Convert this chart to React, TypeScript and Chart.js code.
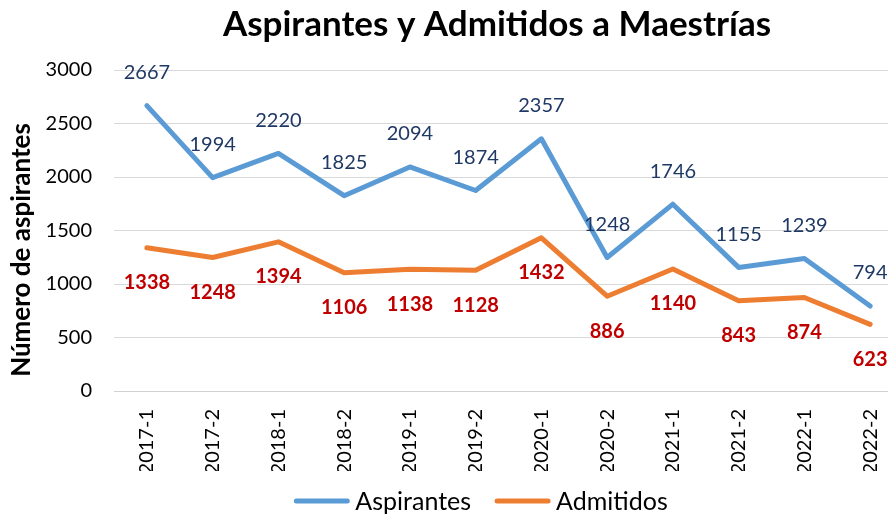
import React, { useEffect, useRef } from "react";
import { Chart, registerables } from "chart.js";

Chart.register(...registerables);

const categories = ["2017-1", "2017-2", "2018-1", "2018-2", "2019-1", "2019-2", "2020-1", "2020-2", "2021-1", "2021-2", "2022-1", "2022-2"];
const aspirantes = [2667, 1994, 2220, 1825, 2094, 1874, 2357, 1248, 1746, 1155, 1239, 794];
const admitidos = [1338, 1248, 1394, 1106, 1138, 1128, 1432, 886, 1140, 843, 874, 623];
const yTicks = [0, 500, 1000, 1500, 2000, 2500, 3000];
const titleText = "Aspirantes y Admitidos a Maestrías";
const yTitleText = "Número de aspirantes";
const seriesNames = ["Aspirantes", "Admitidos"];
const seriesColors = ["#5B9BD5", "#ED7D31"];

const FONT = "Lato, 'Noto Sans', sans-serif";
const W = 920;
const H = 516;

const overlay = {
  id: "overlay",
  afterDatasetsDraw(chart: any) {
    const ctx = chart.ctx as CanvasRenderingContext2D;
    ctx.save();
    ctx.textAlign = "center";
    ctx.textBaseline = "middle";
    chart.data.datasets.forEach((ds: any, i: number) => {
      const meta = chart.getDatasetMeta(i);
      const isFirst = i === 0;
      ctx.fillStyle = isFirst ? "#1F3864" : "#C00000";
      ctx.font = (isFirst ? "normal " : "bold ") + "20px " + FONT;
      const dy = isFirst ? -33 : 35;
      meta.data.forEach((pt: any, j: number) => {
        ctx.fillText(String(ds.data[j]), pt.x, pt.y + dy);
      });
    });
    ctx.restore();
  },
  afterDraw(chart: any) {
    const ctx = chart.ctx as CanvasRenderingContext2D;
    ctx.save();
    // Title
    ctx.fillStyle = "#000";
    ctx.font = "bold 35px " + FONT;
    ctx.textAlign = "center";
    ctx.textBaseline = "middle";
    ctx.fillText(titleText, 497, 25);
    // Y axis title
    ctx.save();
    ctx.translate(22, 250);
    ctx.rotate(-Math.PI / 2);
    ctx.font = "bold 26px " + FONT;
    ctx.fillText(yTitleText, 0, 0);
    ctx.restore();
    // Legend
    ctx.font = "25px " + FONT;
    ctx.textAlign = "left";
    const lineLen = 55;
    const gapText = 6;
    const gapItems = 24;
    const widths = seriesNames.map((n) => ctx.measureText(n).width);
    const total = widths.reduce((a, w) => a + lineLen + gapText + w, 0) + gapItems * (seriesNames.length - 1);
    let x = 481 - total / 2;
    const y = 501;
    seriesNames.forEach((n, i) => {
      ctx.strokeStyle = seriesColors[i];
      ctx.lineWidth = 5;
      ctx.lineCap = "round";
      ctx.beginPath();
      ctx.moveTo(x + 2, y);
      ctx.lineTo(x + lineLen - 2, y);
      ctx.stroke();
      ctx.fillStyle = "#000";
      ctx.fillText(n, x + lineLen + gapText, y + 1);
      x += lineLen + gapText + widths[i] + gapItems;
    });
    ctx.restore();
  },
};

export default function App() {
  const ref = useRef<HTMLCanvasElement>(null);
  useEffect(() => {
    const chart = new Chart(ref.current as HTMLCanvasElement, {
      type: "line",
      data: {
        labels: categories,
        datasets: [
          {
            label: seriesNames[0],
            data: aspirantes,
            borderColor: seriesColors[0],
            backgroundColor: seriesColors[0],
            borderWidth: 5,
            pointRadius: 0,
            tension: 0,
            borderCapStyle: "round",
            borderJoinStyle: "round",
          },
          {
            label: seriesNames[1],
            data: admitidos,
            borderColor: seriesColors[1],
            backgroundColor: seriesColors[1],
            borderWidth: 5,
            pointRadius: 0,
            tension: 0,
            borderCapStyle: "round",
            borderJoinStyle: "round",
          },
        ],
      },
      options: {
        responsive: false,
        animation: false,
        devicePixelRatio: 1,
        layout: { padding: { top: 70, right: W - 903, bottom: H - 391 - 80, left: 0 } },
        plugins: {
          legend: { display: false },
          title: { display: false },
          tooltip: { enabled: false },
        },
        scales: {
          x: {
            type: "category",
            offset: true,
            grid: { display: false },
            border: { display: true, color: "#D0D0D0", width: 1 },
            ticks: {
              maxRotation: 90,
              minRotation: 90,
              padding: 10,
              color: "#000",
              font: { family: FONT, size: 20 },
            },
            afterFit: (scale: any) => {
              scale.height = 80;
            },
          },
          y: {
            min: 0,
            max: 3000,
            grid: { color: "#D9D9D9", lineWidth: 1, drawTicks: false },
            border: { display: false },
            ticks: {
              padding: 22,
              color: "#000",
              font: { family: FONT, size: 20 },
              callback: (v: any) => String(v),
            },
            afterBuildTicks: (scale: any) => {
              scale.ticks = yTicks.map((v) => ({ value: v }));
            },
            afterFit: (scale: any) => {
              scale.width = 114;
            },
          },
        },
      },
      plugins: [overlay],
    } as any);
    return () => chart.destroy();
  }, []);
  return (
    <div style={{ position: "fixed", left: 0, top: 0, width: W, height: H, overflow: "hidden", background: "#fff" }}>
      <canvas ref={ref} width={W} height={H} style={{ display: "block", width: W, height: H }} />
    </div>
  );
}
